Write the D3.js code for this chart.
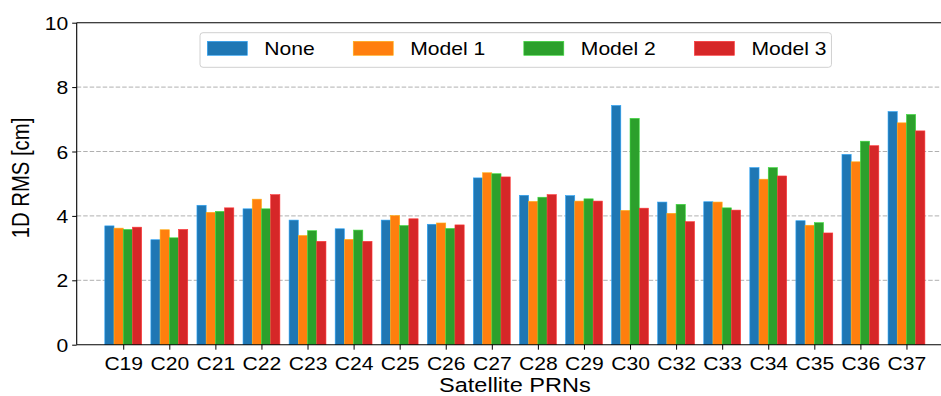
<!DOCTYPE html>
<html>
<head>
<meta charset="utf-8">
<script src="https://cdn.jsdelivr.net/npm/d3@7"></script>
<style>
  html, body { margin: 0; padding: 0; background: #fff; }
  svg { display: block; font-family: 'Liberation Sans', Arial, sans-serif; }
</style>
</head>
<body>
<div id="chart"></div>
<script>
const prns = ['C19', 'C20', 'C21', 'C22', 'C23', 'C24', 'C25', 'C26', 'C27', 'C28', 'C29', 'C30', 'C32', 'C33', 'C34', 'C35', 'C36', 'C37']
const seriesNames = ['None', 'Model 1', 'Model 2', 'Model 3']
const colors = ['#1f77b4', '#ff7f0e', '#2ca02c', '#d62728']

const noneVals   = [3.69, 3.26, 4.33, 4.22, 3.87, 3.60, 3.87, 3.74, 5.18, 4.64, 4.63, 7.43, 4.43, 4.44, 5.50, 3.85, 5.91, 7.24]
const model1Vals = [3.62, 3.57, 4.11, 4.52, 3.39, 3.27, 4.01, 3.78, 5.34, 4.45, 4.46, 4.17, 4.08, 4.43, 5.14, 3.71, 5.68, 6.89]
const model2Vals = [3.58, 3.32, 4.14, 4.22, 3.54, 3.56, 3.70, 3.61, 5.31, 4.58, 4.53, 7.03, 4.36, 4.25, 5.50, 3.79, 6.32, 7.15]
const model3Vals = [3.65, 3.58, 4.25, 4.66, 3.21, 3.21, 3.91, 3.72, 5.21, 4.66, 4.46, 4.24, 3.82, 4.18, 5.24, 3.47, 6.18, 6.64]

const yTicks = [0, 2, 4, 6, 8, 10]
const gridVals = [2, 4, 6, 8]

const allSeries = [noneVals, model1Vals, model2Vals, model3Vals]

const W = 941, H = 396
const PLOT = { left: 76.7, top: 22.7, right: 953, bottom: 344.7 }
const FONT = 18.2      // tick + legend size
const LABEL_FONT = 20.3
const SX = 1.16        // the reference text is a bit wide, stretch it horizontally

const svg = d3.select('#chart').append('svg')
  .attr('width', W).attr('height', H)

const x = d3.scalePoint().domain(prns).range([PLOT.left, PLOT.right]).padding(1.01)
const step = x.step()
const xSub = d3.scaleBand().domain(seriesNames).range([-0.4 * step, 0.4 * step])
const y = d3.scaleLinear().domain([0, 10]).range([PLOT.bottom, PLOT.top])

// stretch a text node horizontally around its anchor point
function widen(sel) {
  sel.each(function () {
    const t = d3.select(this)
    const tx = +t.attr('x') || 0
    const ty = +t.attr('y') || 0
    t.attr('x', 0).attr('y', 0)
      .attr('transform', `translate(${tx},${ty}) scale(${SX},1)`)
  })
}

// ── grid ─────────────────────────────────────────────────────
svg.append('g').attr('class', 'grid')
  .selectAll('line').data(gridVals).join('line')
  .attr('x1', PLOT.left).attr('x2', PLOT.right)
  .attr('y1', d => y(d)).attr('y2', d => y(d))
  .attr('stroke', '#b0b0b0').attr('stroke-width', 1)
  .attr('stroke-dasharray', '4.5 2')

// ── bars ─────────────────────────────────────────────────────
const rows = prns.map((p, i) => ({ prn: p, vals: allSeries.map(s => s[i]) }))

svg.append('g').attr('class', 'bars')
  .selectAll('g').data(rows).join('g')
  .attr('transform', d => `translate(${x(d.prn)},0)`)
  .selectAll('rect').data(d => d.vals.map((v, k) => ({ k, v })))
  .join('rect')
  .attr('x', d => xSub(seriesNames[d.k]))
  .attr('width', xSub.bandwidth())
  .attr('y', d => y(d.v))
  .attr('height', d => y(0) - y(d.v))
  .attr('fill', d => colors[d.k])
  .attr('stroke', d => d3.color(colors[d.k]).brighter(0.9))
  .attr('stroke-width', 0.6)

// ── axes ─────────────────────────────────────────────────────
const gx = svg.append('g').attr('transform', `translate(0,${PLOT.bottom})`)
  .call(d3.axisBottom(x).tickSizeOuter(0).tickSize(5).tickPadding(6))
gx.select('.domain').remove()
gx.selectAll('text').style('font-size', FONT + 'px').attr('fill', '#000')
  .attr('dy', null).attr('y', 25.3).call(widen)
gx.selectAll('line').attr('stroke', '#000').attr('stroke-width', 1)

const gy = svg.append('g').attr('transform', `translate(${PLOT.left},0)`)
  .call(d3.axisLeft(y).tickValues(yTicks).tickSize(4.5).tickPadding(3.9))
gy.select('.domain').remove()
gy.selectAll('text').style('font-size', FONT + 'px').attr('fill', '#000')
  .attr('dy', null).attr('y', 6.5).call(widen)
gy.selectAll('line').attr('stroke', '#000').attr('stroke-width', 1)

// spines
svg.append('g').attr('class', 'spines')
  .selectAll('line').data([
    [PLOT.left, PLOT.top, PLOT.left, PLOT.bottom],
    [PLOT.left, PLOT.bottom, PLOT.right, PLOT.bottom],
    [PLOT.left, PLOT.top, PLOT.right, PLOT.top]
  ]).join('line')
  .attr('x1', d => d[0]).attr('y1', d => d[1])
  .attr('x2', d => d[2]).attr('y2', d => d[3])
  .attr('stroke', '#000').attr('stroke-width', 1.1)

// axis labels
svg.append('text')
  .attr('x', (PLOT.left + PLOT.right) / 2).attr('y', 391.5)
  .attr('text-anchor', 'middle').style('font-size', LABEL_FONT + 'px')
  .text('Satellite PRNs')
  .call(widen)

svg.append('text')
  .attr('transform', `translate(28.5,178) scale(${SX},1) rotate(-90)`)
  .attr('text-anchor', 'middle').style('font-size', LABEL_FONT + 'px')
  .text('1D RMS [cm]')

// ── legend ───────────────────────────────────────────────────
const LEG = { x: 200, y: 32.7, h: 34.6, patchW: 40, patchH: 14, pad: 7.3, gap: 17, colGap: 38.5, endPad: 5 }
const leg = svg.append('g').attr('class', 'legend')
const box = leg.append('rect')
  .attr('x', LEG.x).attr('y', LEG.y).attr('height', LEG.h)
  .attr('rx', 3).attr('fill', '#fff').attr('fill-opacity', 0.8)
  .attr('stroke', '#d0d0d0').attr('stroke-width', 1)

let cx = LEG.x + LEG.pad
seriesNames.forEach((name, k) => {
  leg.append('rect')
    .attr('x', cx).attr('y', LEG.y + 8.6)
    .attr('width', LEG.patchW).attr('height', LEG.patchH)
    .attr('fill', colors[k])
    .attr('stroke', d3.color(colors[k]).brighter(0.9)).attr('stroke-width', 0.6)
  const t = leg.append('text')
    .attr('x', cx + LEG.patchW + LEG.gap).attr('y', LEG.y + 22.6)
    .style('font-size', FONT + 'px')
    .text(name)
  const len = t.node().getComputedTextLength() * SX
  t.call(widen)
  cx += LEG.patchW + LEG.gap + len + (k < seriesNames.length - 1 ? LEG.colGap : LEG.endPad)
})
box.attr('width', cx - LEG.x)
</script>
</body>
</html>
